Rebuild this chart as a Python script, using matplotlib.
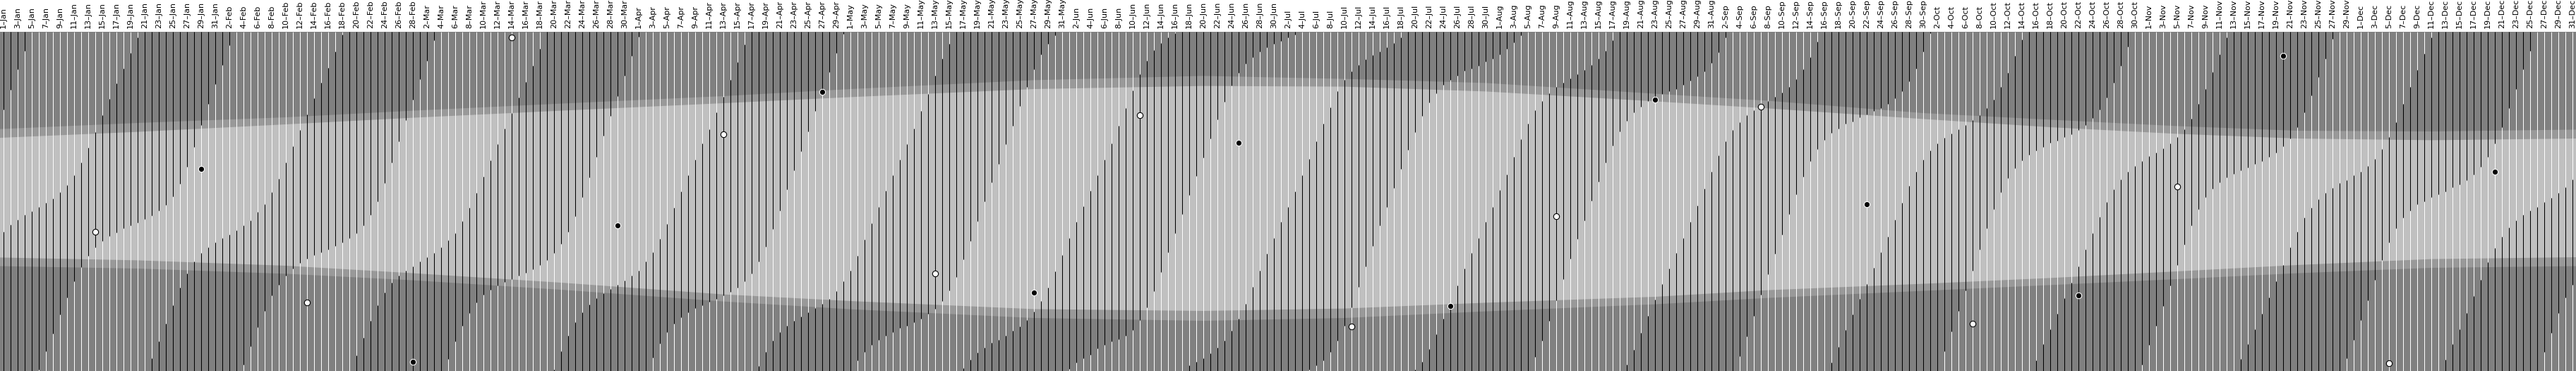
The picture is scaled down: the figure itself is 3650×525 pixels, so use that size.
import numpy as np
import matplotlib
matplotlib.use("Agg")
import matplotlib.pyplot as plt

nan = np.nan

months = ["Jan", "Feb", "Mar", "Apr", "May", "Jun",
          "Jul", "Aug", "Sep", "Oct", "Nov", "Dec"]
month_len = [31, 28, 31, 30, 31, 30, 31, 31, 30, 31, 30, 31]

# moonrise / moonset per day, hours UTC (nan = no event that day)
moonrise_jan = [9.83, 10.33, 10.72, 11.05, 11.30, 11.62, 11.88, 12.22, 12.67, 13.17, 13.83, 14.75, 15.78, 16.92, 18.08, 19.25, 20.33, 21.42, 22.50, 23.62, nan, 0.92, 2.12, 3.33, 4.63, 5.88, 6.92, 7.75, 8.33, 8.75, 9.08]
moonset_jan = [18.50, 19.92, 21.33, 22.67, nan, 0.08, 1.42, 2.67, 4.00, 5.22, 6.33, 7.33, 8.17, 8.75, 9.22, 9.55, 9.78, 10.08, 10.28, 10.50, 10.75, 11.00, 11.33, 11.75, 12.33, 13.25, 14.45, 15.83, 17.42, 18.92, 20.28]
moonrise_feb = [9.38, 9.67, 9.95, 10.28, 10.67, 11.25, 11.78, 12.67, 13.62, 14.75, 15.92, 17.05, 18.17, 19.28, 20.38, 21.47, 22.58, 23.78, nan, 1.08, 2.33, 3.55, 4.65, 5.55, 6.25, 6.75, 7.12, 7.42]
moonset_feb = [21.67, 23.05, nan, 0.45, 1.75, 3.08, 4.25, 5.33, 6.08, 6.75, 7.25, 7.67, 7.95, 8.20, 8.42, 8.62, 8.83, 9.12, 9.38, 9.75, 10.28, 11.05, 12.00, 13.28, 14.75, 16.25, 17.75, 19.20]
moonrise_mar = [7.75, 8.03, 8.33, 8.75, 9.25, 9.75, 10.58, 11.53, 12.62, 13.75, 14.88, 16.05, 17.13, 18.25, 19.33, 20.45, 21.62, 22.80, nan, 0.08, 1.42, 2.50, 3.45, 4.17, 4.72, 5.17, 5.50, 5.78, 6.08, 6.38, 6.75]
moonset_mar = [20.63, 21.97, 23.38, nan, 0.83, 2.08, 3.22, 4.12, 4.83, 5.38, 5.75, 6.05, 6.30, 6.50, 6.75, 6.95, 7.22, 7.50, 7.83, 8.33, 9.00, 9.83, 10.95, 12.28, 13.72, 15.17, 16.67, 18.05, 19.45, 20.88, 22.28]
moonrise_apr = [7.12, 7.75, 8.42, 9.33, 10.42, 11.55, 12.72, 13.83, 14.95, 16.08, 17.12, 18.28, 19.42, 20.62, 21.87, 23.12, nan, 0.33, 1.37, 2.17, 2.75, 3.20, 3.55, 3.83, 4.17, 4.45, 4.75, 5.12, 5.67, 6.33]
moonset_apr = [23.67, nan, 0.95, 1.95, 2.75, 3.33, 3.78, 4.17, 4.45, 4.67, 4.92, 5.12, 5.37, 5.62, 5.92, 6.33, 6.92, 7.75, 8.78, 10.05, 11.37, 12.83, 14.22, 15.55, 16.95, 18.38, 19.92, 21.17, 22.50, 23.83]
moonrise_may = [7.12, 8.17, 9.28, 10.45, 11.62, 12.75, 13.83, 14.95, 16.05, 17.17, 18.38, 19.62, 20.88, 22.12, 23.17, nan, 0.22, 0.78, 1.28, 1.67, 2.00, 2.22, 2.50, 2.83, 3.17, 3.62, 4.22, 4.97, 5.88, 7.05, 8.20]
moonset_may = [nan, 0.75, 1.33, 1.83, 2.22, 2.50, 2.75, 3.03, 3.22, 3.45, 3.72, 4.03, 4.42, 4.95, 5.70, 6.67, 7.92, 9.22, 10.58, 12.00, 13.33, 14.67, 16.03, 17.37, 18.75, 20.08, 21.33, 22.38, 23.17, 23.75, nan]
moonrise_jun = [9.38, 10.55, 11.67, 12.75, 13.83, 14.95, 16.12, 17.33, 18.58, 19.83, 21.00, 21.95, 22.70, 23.22, 23.62, 23.92, nan, 0.38, 0.67, 0.92, 1.25, 1.67, 2.17, 2.83, 3.72, 4.75, 5.95, 7.12, 8.28, 9.42]
moonset_jun = [0.17, 0.62, 0.92, 1.17, 1.58, 1.83, 2.08, 2.25, 2.50, 2.92, 3.58, 4.50, 5.67, 7.00, 8.38, 9.75, 11.12, 12.45, 13.78, 15.12, 16.45, 17.78, 19.05, 20.22, 21.08, 21.75, 22.20, 22.58, 22.88, 23.13]
moonrise_jul = [10.53, 11.62, 12.72, 13.83, 15.00, 16.25, 17.50, 18.67, 19.78, 20.62, 21.22, 21.67, 22.05, 22.37, 22.62, 22.92, 23.22, 23.62, nan, 0.10, 0.67, 1.55, 2.58, 3.72, 4.75, 6.05, 7.25, 8.33, 9.42, 10.55, 11.62]
moonset_jul = [23.33, 23.58, 23.78, nan, 0.08, 0.38, 0.75, 1.37, 2.17, 3.22, 4.50, 5.95, 7.42, 8.83, 10.28, 11.62, 12.97, 14.28, 15.63, 16.92, 18.05, 19.00, 19.67, 20.25, 20.62, 20.92, 21.25, 21.42, 21.62, 21.88, 22.12]
moonrise_aug = [12.78, 13.92, 15.17, 16.38, 17.50, 18.45, 19.12, 19.67, 20.08, 20.42, 20.72, 21.00, 21.30, 21.67, 22.12, 22.67, 23.42, nan, 0.45, 1.50, 2.72, 3.92, 5.05, 6.13, 7.25, 8.33, 9.42, 10.55, 11.72, 12.92, 14.08]
moonset_aug = [22.42, 22.78, 23.25, 23.75, nan, 1.00, 2.17, 3.55, 5.00, 6.50, 7.95, 9.33, 10.67, 12.05, 13.42, 14.75, 15.95, 16.95, 17.72, 18.28, 18.72, 19.08, 19.42, 19.62, 19.78, 19.95, 20.25, 20.53, 20.83, 21.22, 21.78]
moonrise_sep = [15.25, 16.25, 17.05, 17.62, 18.08, 18.45, 18.72, 19.08, 19.42, 19.70, 20.12, 20.63, 21.37, 22.22, 23.32, nan, 0.58, 1.72, 2.88, 4.00, 5.08, 6.17, 7.28, 8.38, 9.50, 10.72, 11.92, 13.08, 14.08, 14.95]
moonset_sep = [22.55, 23.62, nan, 1.05, 2.45, 3.92, 5.42, 6.83, 8.28, 9.67, 11.12, 12.50, 13.75, 14.83, 15.72, 16.33, 16.83, 17.17, 17.50, 17.67, 17.95, 18.17, 18.38, 18.62, 18.92, 19.28, 19.78, 20.48, 21.38, 22.58]
moonrise_oct = [15.58, 16.12, 16.50, 16.80, 17.12, 17.38, 17.75, 18.08, 18.62, 19.22, 20.08, 21.12, 22.28, 23.45, nan, 0.75, 1.88, 2.95, 4.05, 5.17, 6.25, 7.38, 8.58, 9.75, 10.92, 11.97, 12.87, 13.55, 14.08, 14.50, 14.83]
moonset_oct = [23.92, nan, 1.42, 2.78, 4.25, 5.70, 7.12, 8.58, 10.08, 11.47, 12.67, 13.63, 14.37, 14.88, 15.30, 15.62, 15.83, 16.13, 16.30, 16.53, 16.75, 17.05, 17.38, 17.88, 18.50, 19.37, 20.38, 21.62, 22.97, nan, 0.45]
moonrise_nov = [15.22, 15.45, 15.75, 16.12, 16.55, 17.12, 17.87, 18.92, 19.97, 21.17, 22.42, 23.58, nan, 0.83, 1.88, 2.95, 4.05, 5.22, 6.37, 7.50, 8.75, 9.83, 10.83, 11.55, 12.17, 12.62, 12.97, 13.28, 13.50, 13.83]
moonset_nov = [1.83, 3.20, 4.58, 6.03, 7.50, 8.95, 10.28, 11.45, 12.28, 12.92, 13.37, 13.72, 13.95, 14.22, 14.42, 14.67, 14.83, 15.17, 15.45, 15.92, 16.45, 17.25, 18.28, 19.50, 20.78, 22.12, 23.50, nan, 0.92, 2.22]
moonrise_dec = [14.12, 14.50, 15.00, 15.72, 16.55, 17.62, 18.88, 20.08, 21.30, 22.45, 23.58, nan, 0.78, 1.88, 2.95, 4.08, 5.28, 6.47, 7.70, 8.70, 9.50, 10.17, 10.67, 11.05, 11.37, 11.62, 11.95, 12.25, 12.58, 13.00, 13.55]
moonset_dec = [3.62, 5.00, 6.45, 7.83, 9.12, 10.08, 10.83, 11.33, 11.78, 12.00, 12.28, 12.50, 12.72, 13.00, 13.22, 13.50, 13.92, 14.45, 15.17, 16.12, 17.25, 18.58, 19.95, 21.33, 22.67, nan, 1.33, 2.72, 4.08, 5.22, 6.08]

# sun: civil dawn, sunrise, sunset, civil dusk (hours UTC) on sample days
sun_dates = ["2006-01-01", "2006-01-20", "2006-02-10", "2006-02-28", "2006-03-21",
             "2006-04-13", "2006-05-01", "2006-05-27", "2006-06-20", "2006-07-10",
             "2006-07-30", "2006-08-23", "2006-09-08", "2006-09-30", "2006-10-18",
             "2006-11-05", "2006-11-22", "2006-12-11", "2006-12-31"]
dawn = [7.42, 7.25, 6.88, 6.42, 5.75, 4.92, 4.37, 3.75, 3.55, 3.75,
        4.22, 4.72, 5.17, 5.67, 6.08, 6.50, 6.92, 7.30, 7.42]
sunrise = [8.03, 7.83, 7.45, 6.92, 6.25, 5.42, 4.95, 4.38, 4.25, 4.42,
           4.83, 5.25, 5.72, 6.17, 6.58, 7.05, 7.50, 7.92, 8.05]
sunset = [16.50, 16.92, 17.45, 17.92, 18.42, 18.95, 19.38, 19.95, 20.17, 20.12,
          19.78, 19.08, 18.58, 17.83, 17.25, 16.78, 16.45, 16.33, 16.45]
dusk = [17.12, 17.55, 17.95, 18.42, 18.92, 19.45, 19.95, 20.58, 20.88, 20.67,
        20.38, 19.62, 19.12, 18.25, 17.78, 17.33, 17.00, 16.95, 17.08]

# moon phases (date, hour UTC)
full_moon_dates = ["2006-01-14", "2006-02-13", "2006-03-14", "2006-04-13", "2006-05-13", "2006-06-11",
                   "2006-07-11", "2006-08-09", "2006-09-07", "2006-10-07", "2006-11-05", "2006-12-05"]
full_moon_hour = [9.83, 4.83, 23.58, 16.73, 6.92, 18.08, 3.13, 10.95, 18.72, 3.33, 13.05, 0.55]
new_moon_dates = ["2006-01-29", "2006-02-28", "2006-03-29", "2006-04-27", "2006-05-27", "2006-06-25",
                  "2006-07-25", "2006-08-23", "2006-09-22", "2006-10-22", "2006-11-20", "2006-12-20"]
new_moon_hour = [14.28, 0.67, 10.28, 19.75, 5.53, 16.13, 4.62, 19.22, 11.78, 5.33, 22.30, 14.08]

day_labels = [f"{d}\u2013{m}" for m, n in zip(months, month_len) for d in range(1, n + 1)]

moonrise = np.array(moonrise_jan + moonrise_feb + moonrise_mar + moonrise_apr + moonrise_may + moonrise_jun
                    + moonrise_jul + moonrise_aug + moonrise_sep + moonrise_oct + moonrise_nov + moonrise_dec)
moonset = np.array(moonset_jan + moonset_feb + moonset_mar + moonset_apr + moonset_may + moonset_jun
                   + moonset_jul + moonset_aug + moonset_sep + moonset_oct + moonset_nov + moonset_dec)


def doy(dates):
    return (np.array(dates, dtype="datetime64[D]") - np.datetime64("2006-01-01")).astype(int)


ndays = len(day_labels)
x_day = np.arange(ndays) + 0.5

fig = plt.figure(figsize=(36.5, 5.25), dpi=100)
ax = fig.add_axes([0, 0, 1, 480 / 525])
ax.set_facecolor("#808080")
ax.set_xlim(0, ndays)
ax.set_ylim(0, 24)

xs = doy(sun_dates) + 0.5
xs[0] = 0
xs[-1] = ndays
ax.fill_between(xs, dawn, dusk, color="#999999", lw=0)
ax.fill_between(xs, sunrise, sunset, color="#c0c0c0", lw=0)

# moon: black where below horizon, white where up
ax.vlines(x_day, 0, 24, colors="black", lw=0.75)
up_x, up_lo, up_hi = [], [], []
for x, r, s in zip(x_day, moonrise, moonset):
    if not np.isnan(r) and not np.isnan(s):
        if r < s:
            spans = [(r, s)]
        else:
            spans = [(0, s), (r, 24)]
    elif not np.isnan(r):
        spans = [(r, 24)]
    else:
        spans = [(0, s)]
    for lo, hi in spans:
        up_x.append(x)
        up_lo.append(lo)
        up_hi.append(hi)
ax.vlines(up_x, up_lo, up_hi, colors="white", lw=0.75)

ax.plot(doy(full_moon_dates) + 0.5, full_moon_hour, "o", ms=6, mfc="white", mec="black", mew=0.8)
ax.plot(doy(new_moon_dates) + 0.5, new_moon_hour, "o", ms=6, mfc="black", mec="white", mew=0.8)

ax.xaxis.tick_top()
ax.set_xticks(x_day[::2])
ax.set_xticklabels(day_labels[::2], rotation=90, fontsize=8)
ax.tick_params(axis="x", length=0, pad=3.5)
ax.set_yticks([])
for sp in ax.spines.values():
    sp.set_visible(False)

fig.savefig("out.png", dpi=100)
